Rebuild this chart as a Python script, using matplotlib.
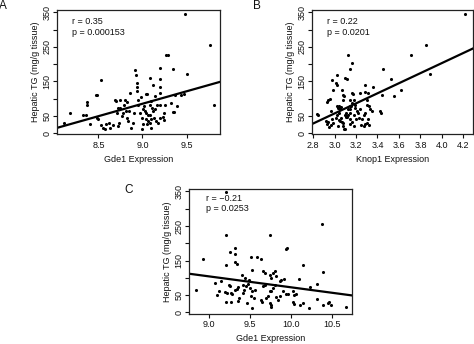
import numpy as np
import matplotlib.pyplot as plt

plt.rcParams['font.family'] = ['Liberation Sans', 'DejaVu Sans']

# panel A: Gde1 expression vs hepatic TG
gde1_a = [8.11, 8.18, 8.37, 8.37, 8.33, 8.36, 8.40, 8.47, 8.48, 8.48, 8.50, 8.53,
          8.53, 8.55, 8.57, 8.59, 8.63, 8.66, 8.69, 8.70, 8.71, 8.72, 8.73, 8.72,
          8.74, 8.75, 8.78, 8.79, 8.80, 8.81, 8.82, 8.84, 8.85, 8.86, 8.87, 8.89,
          8.90, 8.91, 8.93, 8.94, 8.94, 8.94, 8.95, 8.95, 9.48, 9.77, 9.27, 9.29,
          9.20, 9.35, 9.51, 9.08, 9.20, 9.12, 9.20, 9.04, 9.05, 9.14, 9.20, 9.10,
          9.08, 9.11, 9.16, 9.20, 9.26, 9.32, 9.37, 9.44, 9.47, 9.39, 9.81, 9.35,
          9.36, 9.01, 9.03, 9.04, 9.06, 9.08, 9.12, 9.14, 9.00, 9.04, 9.06, 9.10,
          9.13, 9.15, 9.18, 9.23, 9.24, 9.25, 9.20, 9.01, 9.05, 9.08, 9.10, 8.99,
          8.62, 8.77, 8.83, 8.97, 8.98, 9.02]
tg_a = [31, 59, 91, 83, 54, 52, 28, 112, 112, 43, 40, 153,
        24, 16, 12, 26, 16, 24, 97, 94, 59, 73, 31, 21,
        97, 73, 59, 83, 97, 64, 45, 35, 64, 116, 16, 31,
        59, 183, 169, 145, 135, 121, 97, 83, 345, 256, 226, 226,
        188, 186, 173, 159, 157, 140, 135, 113, 113, 107, 116, 93,
        83, 73, 83, 83, 83, 88, 112, 112, 114, 78, 83, 62,
        61, 69, 64, 59, 54, 54, 64, 69, 45, 40, 35, 40,
        45, 35, 31, 47, 59, 37, 45, 28, 26, 31, 16, 12,
        30, 50, 90, 60, 105, 80]

# panel B: Knop1 expression vs hepatic TG
knop1_b = [2.84, 2.85, 2.92, 2.93, 2.94, 2.93, 2.94, 2.96, 2.97, 2.98, 3.01, 2.99,
           3.02, 3.02, 2.98, 2.99, 2.97, 3.01, 3.02, 3.04, 3.02, 3.03, 3.04, 3.05,
           3.06, 3.07, 3.08, 3.08, 3.09, 3.04, 3.05, 3.07, 3.06, 3.08, 3.09, 3.08,
           3.10, 3.11, 3.13, 3.11, 3.13, 3.14, 3.16, 3.10, 3.12, 3.16, 3.17, 3.14,
           3.16, 3.15, 3.14, 3.14, 3.14, 3.13, 3.12, 3.14, 3.14, 3.16, 3.18, 3.19,
           3.19, 3.18, 3.20, 3.21, 3.24, 3.24, 3.22, 3.23, 3.28, 3.28, 3.30, 3.30,
           3.28, 3.27, 3.26, 3.25, 3.31, 3.32, 3.33, 3.31, 3.30, 3.28, 3.36, 3.35,
           3.42, 3.43, 3.44, 3.45, 3.53, 3.55, 3.62, 3.71, 3.85, 3.89, 4.22,
           2.95, 3.03, 3.10, 3.18, 3.27, 3.32]
tg_b = [56, 52, 35, 26, 32, 91, 97, 99, 64, 154, 147, 126,
        169, 140, 40, 29, 23, 45, 54, 59, 78, 73, 80, 69,
        76, 126, 111, 97, 107, 38, 35, 32, 45, 30, 13, 21,
        54, 48, 69, 59, 226, 185, 204, 159, 157, 118, 114, 97,
        88, 80, 78, 69, 59, 54, 48, 40, 26, 32, 97, 83,
        73, 54, 40, 64, 116, 69, 59, 45, 140, 119, 97, 83,
        59, 54, 40, 23, 116, 78, 70, 40, 30, 26, 135, 64,
        64, 60, 110, 187, 157, 108, 125, 226, 257, 173, 345,
        18, 22, 12, 20, 20, 25]

# panel C: Gde1 expression (second cohort) vs hepatic TG
gde1_c = [8.85, 8.93, 9.08, 9.10, 9.13, 9.15, 9.21, 9.21, 9.21, 9.20, 9.22, 9.21,
          9.27, 9.24, 9.26, 9.26, 9.27, 9.28, 9.32, 9.32, 9.32, 9.34, 9.32, 9.34,
          9.36, 9.35, 9.37, 9.40, 9.41, 9.42, 9.43, 9.44, 9.45, 9.46, 9.48, 9.49,
          9.50, 9.51, 9.53, 9.55, 9.52, 9.51, 9.53, 9.58, 9.56, 9.64, 9.63, 9.65,
          9.66, 9.68, 9.66, 9.68, 9.70, 9.72, 9.74, 9.74, 9.76, 9.78, 9.74, 9.76,
          9.78, 9.75, 9.76, 9.76, 9.80, 9.82, 9.80, 9.82, 9.84, 9.86, 9.86, 9.88,
          9.90, 9.94, 9.95, 9.92, 9.94, 9.96, 10.02, 10.04, 10.06, 10.02, 10.04, 10.10,
          10.11, 10.14, 10.14, 10.22, 10.23, 10.31, 10.32, 10.38, 10.39, 10.39, 10.45, 10.46,
          10.49, 10.67]
tg_c = [66, 154, 85, 50, 63, 90, 347, 225, 136, 60, 57, 31,
        31, 79, 76, 174, 57, 54, 185, 168, 145, 140, 66, 69,
        73, 33, 42, 109, 80, 57, 66, 100, 76, 28, 82, 95,
        71, 47, 63, 42, 12, 159, 123, 159, 66, 155, 35, 31,
        119, 114, 76, 78, 42, 47, 225, 107, 101, 114, 63, 61,
        71, 28, 23, 16, 119, 104, 80, 44, 35, 47, 90, 95,
        63, 183, 187, 98, 54, 52, 61, 50, 54, 31, 25, 97,
        23, 26, 136, 14, 73, 81, 40, 257, 117, 21, 28, 31,
        21, 16]

stats_a = ["r = 0.35", "p = 0.000153"]
stats_b = ["r = 0.22", "p = 0.0201"]
stats_c = ["r = \u22120.21", "p = 0.0253"]

FS = 6.5
INK = '#111'
W, H = 474, 344
fig = plt.figure(figsize=(W / 100, H / 100), dpi=100)


def px_axes(left, top, right, bottom):
    return fig.add_axes([left / W, 1 - bottom / H, (right - left) / W, (bottom - top) / H])


def panel(ax, x, y, xlim, xticks, xlabel, stats, text_pos, letter, letter_xy):
    ax.scatter(x, y, s=5, c='black', linewidths=0)
    # least-squares line across the full x range
    slope, icpt = np.polyfit(x, y, 1)
    xs = np.array(xlim)
    ax.plot(xs, icpt + slope * xs, color='black', lw=1.6)
    ax.set_xlim(*xlim)
    ax.set_ylim(-3, 357)
    ax.set_xticks(xticks)
    ax.set_xticklabels([f"{t:.1f}" for t in xticks], fontsize=FS)
    yt = np.arange(0, 351, 50)
    ax.set_yticks(yt)
    ax.set_yticklabels([str(v) if v in (0, 50, 150, 250, 350) else '' for v in yt],
                       fontsize=FS, rotation=90, va='center')
    ax.tick_params(direction='out', length=3, width=0.8, colors=INK)
    ax.tick_params(axis='x', pad=2)
    ax.tick_params(axis='y', pad=0.8)
    for sp in ax.spines.values():
        sp.set_linewidth(0.9)
        sp.set_color('#222')
    ax.set_xlabel(xlabel, fontsize=FS, labelpad=3.2, color=INK)
    ax.set_ylabel("Hepatic TG (mg/g tissue)", fontsize=FS, labelpad=2, color=INK)
    tx, ty1, ty2 = text_pos
    ax.text(tx, ty1, stats[0], transform=ax.transAxes, fontsize=FS, va='center', color=INK)
    ax.text(tx, ty2, stats[1], transform=ax.transAxes, fontsize=FS, va='center', color=INK)
    fig.text(letter_xy[0] / W, 1 - letter_xy[1] / H, letter, fontsize=8.5,
             ha='center', va='center', color=INK)


ax_a = px_axes(57, 10, 220, 134.3)
panel(ax_a, gde1_a, tg_a, (8.03, 9.88), [8.5, 9.0, 9.5], "Gde1 Expression",
      stats_a, (0.095, 0.911, 0.823), "A", (3, 6))

ax_b = px_axes(312, 10, 473, 134.3)
panel(ax_b, knop1_b, tg_b, (2.79, 4.29), np.round(np.arange(2.8, 4.21, 0.2), 1),
      "Knop1 Expression", stats_b, (0.093, 0.911, 0.823), "B", (257, 6))

ax_c = px_axes(189, 189, 352, 313.5)
panel(ax_c, gde1_c, tg_c, (8.76, 10.74), [9.0, 9.5, 10.0, 10.5], "Gde1 Expression",
      stats_c, (0.105, 0.922, 0.842), "C", (129, 190))

fig.savefig("out.png", dpi=100)
